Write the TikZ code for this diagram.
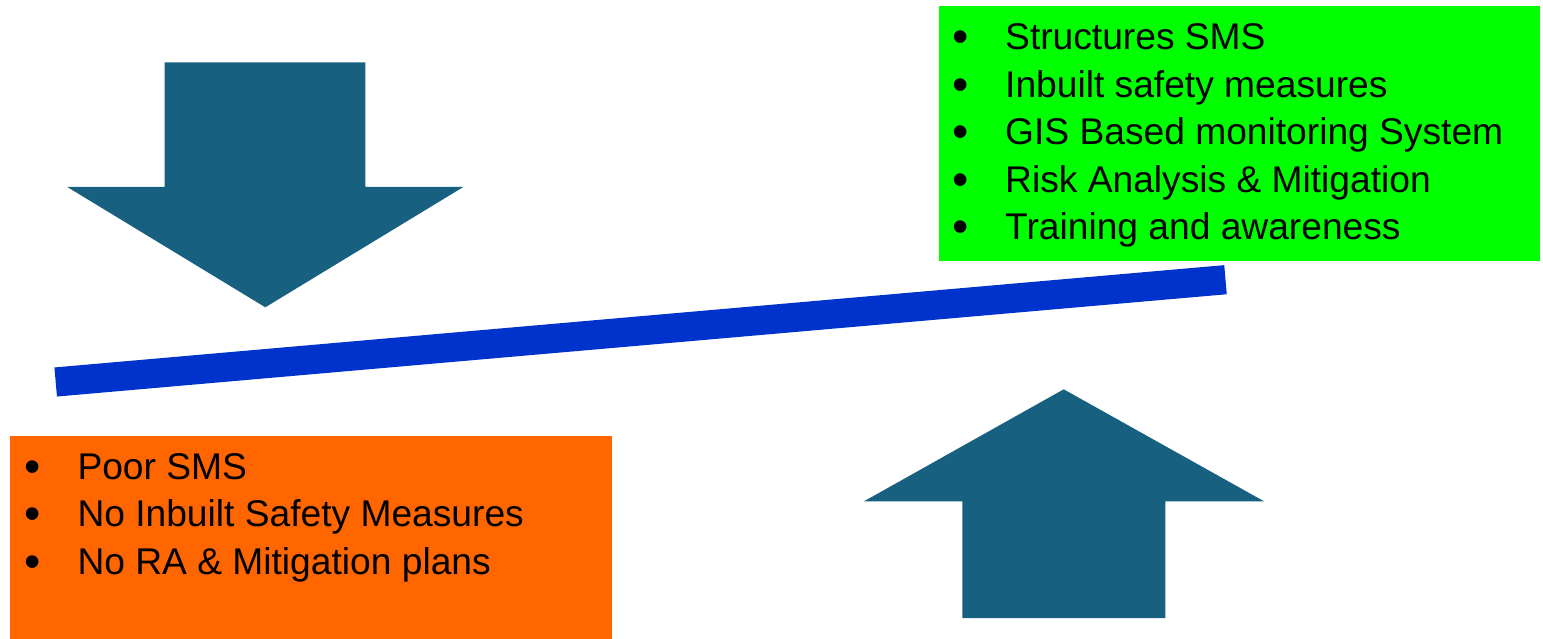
\documentclass[tikz,border=0pt]{standalone}
\usepackage{fontspec}
\setmainfont{Liberation Sans}
\definecolor{arrowc}{RGB}{24,96,128}
\definecolor{barc}{RGB}{0,51,204}
\definecolor{greenc}{RGB}{0,255,0}
\definecolor{orangec}{RGB}{255,102,0}
\newlength\refw
\begin{document}
\settowidth\refw{\fontsize{10pt}{12pt}\selectfont GIS Based monitoring System}%
\pgfmathsetmacro\fs{10*498/\refw}%
\pgfmathsetmacro\bfs{1.25*\fs}%
\begin{tikzpicture}[x=1pt,y=-1pt]
\tikzset{
  txt/.style={anchor=base west, inner sep=0pt, text=black, font=\fontsize{\fs pt}{\fs pt}\selectfont},
  bul/.style={anchor=base, inner sep=0pt, text=black, font=\fontsize{\bfs pt}{\bfs pt}\selectfont},
  arrowfill/.style={fill=arrowc},
  beam/.style={draw=barc, line width=29.2pt}
}
\useasboundingbox (0,0) rectangle (1543,639);
% boxes
\fill[greenc] (939,6) rectangle (1540,261.5);
\fill[orangec] (10,436) rectangle (612,639);
% down arrow
\fill[arrowfill] (164.5,62.3) -- (365.3,62.3) -- (365.3,187) -- (463.3,187) -- (265.3,307.3) -- (67.3,187) -- (164.5,187) -- cycle;
% up arrow
\fill[arrowfill] (1063.7,389.3) -- (1264,501.3) -- (1165.3,501.3) -- (1165.3,618) -- (962.3,618) -- (962.3,501.3) -- (864,501.3) -- cycle;
% beam
\coordinate (bl) at (55.7,382);
\coordinate (br) at (1225.5,279.7);
\draw[beam] (bl) -- (br);
% green list
\foreach \i/\t in {1/Structures SMS, 2/Inbuilt safety measures, 3/GIS Based monitoring System, 4/Risk Analysis \& Mitigation, 5/Training and awareness}{
  \pgfmathsetmacro\yy{50+47.5*(\i-1)}
  \node[bul] (gb\i) at (960.7,\yy+3) {•};
  \node[txt] (gt\i) at (1005,\yy) {\t};
}
% orange list
\foreach \i/\t in {1/Poor SMS, 2/No Inbuilt Safety Measures, 3/No RA \& Mitigation plans}{
  \pgfmathsetmacro\yy{479.3+47.5*(\i-1)}
  \node[bul] (ob\i) at (32.3,\yy+3) {•};
  \node[txt] (ot\i) at (77.3,\yy) {\t};
}
\end{tikzpicture}
\end{document}
